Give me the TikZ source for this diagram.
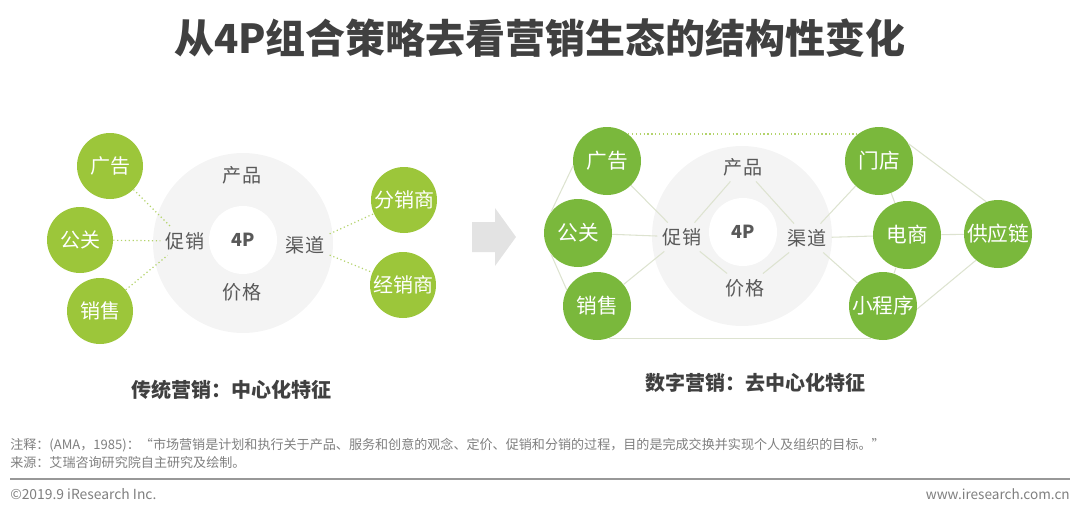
\documentclass[tikz,border=0pt]{standalone}
\usepackage{fontspec}
\setmainfont{Noto Sans CJK SC}
\definecolor{lgreen}{HTML}{9CC63A}
\definecolor{rgreen}{HTML}{7AB83C}
\definecolor{ringgray}{HTML}{F4F4F4}
\definecolor{txtgray}{HTML}{595959}
\definecolor{linkgray}{HTML}{DDE3D0}
\definecolor{dotgreen}{HTML}{B3D36B}
\definecolor{titlegray}{HTML}{404040}
\definecolor{notegray}{HTML}{7F7F7F}
\definecolor{arrowgray}{HTML}{E3E3E3}

\begin{document}
\begin{tikzpicture}[x=0.75pt, y=-0.75pt,
    % 左侧绿色圆（传统营销）
    lball/.style={circle, fill=lgreen, minimum size=49.5pt, inner sep=0pt,
        text=white, font=\fontsize{15}{15}\selectfont},
    % 右侧绿色圆（数字营销）
    rball/.style={circle, fill=rgreen, minimum size=51pt, inner sep=0pt,
        text=white, font=\fontsize{15.5}{15.5}\selectfont},
    % 灰色大圆环
    ring/.style={circle, fill=ringgray, minimum size=135pt, inner sep=0pt},
    % 中心白色圆
    hub/.style={circle, fill=white, minimum size=51pt, inner sep=0pt,
        text=txtgray, font=\bfseries\fontsize{13.5}{13.5}\selectfont},
    % 4P 要素文字
    elem/.style={text=txtgray, font=\fontsize{14.3}{14.3}\selectfont, inner sep=4pt},
    % 点线（绿色）
    dotlink/.style={dotgreen, line width=0.9pt, dotted},
    % 细连线（浅灰绿）
    link/.style={linkgray, line width=0.8pt},
    % 标题与说明文字
    headline/.style={text=titlegray, font=\bfseries\fontsize{30}{30}\selectfont},
    caption/.style={text=titlegray, font=\bfseries\fontsize{15}{15}\selectfont},
    note/.style={text=notegray, font=\fontsize{9.8}{11}\selectfont, inner sep=0pt}
]
    \useasboundingbox (0,0) rectangle (1080,510);

    % 1. 标题
    \node[headline] (title) at (540,38) {从4P组合策略去看营销生态的结构性变化};

    % 2. 左图：传统营销
    \node[ring] (lring) at (243,243) {};
    \node[hub]  (lhub)  at (243,240) {4P};
    \node[elem] (lcp) at (242,175) {产品};
    \node[elem] (lcx) at (185,241) {促销};
    \node[elem] (lqd) at (305,245) {渠道};
    \node[elem] (ljg) at (242,292) {价格};

    \node[lball] (lad) at (110,166) {广告};
    \node[lball] (lgg) at (80,240)  {公关};
    \node[lball] (lxs) at (100,311) {销售};
    \node[lball] (lfx) at (404,200) {分销商};
    \node[lball] (ljx) at (403,285) {经销商};

    \draw[dotlink] (lad) -- (lcx);
    \draw[dotlink] (lgg) -- (lcx);
    \draw[dotlink] (lxs) -- (lcx);
    \draw[dotlink] (lqd) -- (lfx);
    \draw[dotlink] (lqd) -- (ljx);

    \node[caption] (lcap) at (231,390) {传统营销：中心化特征};

    % 3. 中间箭头
    \fill[arrowgray] (472,222) -- (495,222) -- (495,208) -- (516,237)
        -- (495,266) -- (495,252) -- (472,252) -- cycle;

    % 4. 右图：数字营销
    \node[ring] (rring) at (742,236) {};
    \node[hub]  (rhub)  at (743,232) {4P};
    \node[elem] (rcp) at (743,167) {产品};
    \node[elem] (rcx) at (682,237) {促销};
    \node[elem] (rqd) at (807,238) {渠道};
    \node[elem] (rjg) at (745,288) {价格};

    \node[rball] (rad) at (607,161) {广告};
    \node[rball] (rgg) at (578,233) {公关};
    \node[rball] (rxs) at (597,306) {销售};
    \node[rball] (rmd) at (879,161) {门店};
    \node[rball] (rds) at (907,235) {电商};
    \node[rball] (rxc) at (883,306) {小程序};
    \node[rball] (rgy) at (998,234) {供应链};

    % 要素之间
    \draw[link] (rcx) -- (rcp);
    \draw[link] (rcp) -- (rqd);
    \draw[link] (rcx) -- (rjg);
    \draw[link] (rjg) -- (rqd);
    % 促销一侧
    \draw[link] (rad) -- (rcx);
    \draw[link] (rgg) -- (rcx);
    \draw[link] (rxs) -- (rcx);
    \draw[link] (rad.188) -- (rgg.142);
    \draw[link] (rgg.218) -- (rxs.152);
    % 渠道一侧
    \draw[link] (rqd) -- (rmd);
    \draw[link] (rqd) -- (rds);
    \draw[link] (rqd) -- (rxc);
    \draw[link] (rmd) -- (rds);
    \draw[link] (rds) -- (rxc);
    \draw[link] (rmd.30) -- (rgy.110);
    \draw[link] (rds) -- (rgy);
    \draw[link] (rxc.-5) -- (rgy.230);
    % 上下贯通
    \draw[dotlink] (rad.52) -- (rmd.128);
    \draw[link] (rxs.-70) -- (rxc.-110);

    \node[caption] (rcap) at (755,383) {数字营销：去中心化特征};

    % 5. 注释与页脚
    \node[note, anchor=west] (note1) at (10,445)
        {注释：(AMA，1985)：“市场营销是计划和执行关于产品、服务和创意的观念、定价、促销和分销的过程，目的是完成交换并实现个人及组织的目标。”};
    \node[note, anchor=west] (note2) at (10,463) {来源：艾瑞咨询研究院自主研究及绘制。};
    \draw[notegray!80, line width=1.2pt] (10,479) -- (1070,479);
    \node[note, anchor=west, font=\fontsize{10.4}{11}\selectfont] (copy) at (10,494) {©2019.9 iResearch Inc.};
    \node[note, anchor=east, font=\fontsize{10.2}{11}\selectfont] (site) at (1070,494) {www.iresearch.com.cn};

\end{tikzpicture}
\end{document}
